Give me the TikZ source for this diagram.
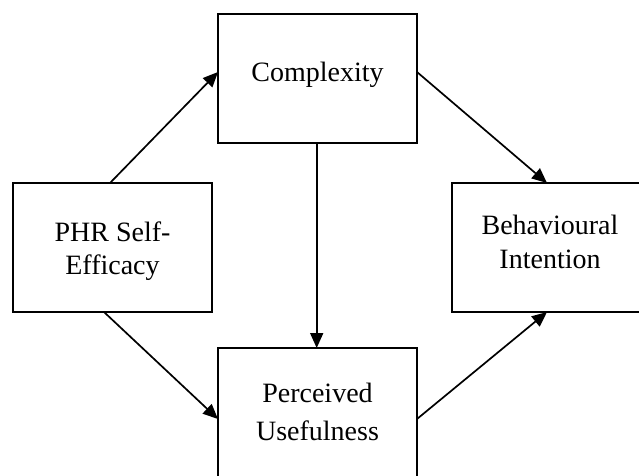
\documentclass[tikz,border=0pt]{standalone}
\usepackage{fontspec}
\setmainfont{Liberation Serif}
\usetikzlibrary{arrows.meta,calc}
\begin{document}
\begin{tikzpicture}[x=1pt,y=-1pt,
  box/.style={draw,line width=1.8pt,minimum width=199pt,minimum height=129pt,
    inner sep=0pt,anchor=north west,outer sep=0pt},
  lbl/.style={align=center,inner sep=0pt,font=\fontsize{28}{33}\selectfont},
  link/.style={line width=1.7pt,-{Triangle[length=15pt,width=13pt]}}]
  \useasboundingbox (0,0) rectangle (639,475);
  \begin{scope}
    \clip (0,0) rectangle (639,475);
    % the four boxes
    \node[box] (phr)  at (13,183)  {};
    \node[box] (comp) at (218,14)  {};
    \node[box] (beh)  at (452,183) {};
    \node[box] (perc) at (218,348) {};
  \end{scope}
  % box labels
  \node[lbl] (phrt)  at (112.5,251)  {PHR Self-\\Efficacy};
  \node[lbl] (compt) at (317.5,75.2) {Complexity};
  \node[lbl,font=\fontsize{28}{34}\selectfont] (beht) at (550,241.5) {Behavioural\\Intention};
  \node[lbl,font=\fontsize{28}{38}\selectfont] (perct) at (317.5,411.5) {Perceived\\Usefulness};
  % causal paths
  \draw[link] ($(phr.north west)+(97,0)$) -- ($(comp.north west)+(0,58)$);
  \draw[link] ($(phr.south west)+(91,0)$) -- ($(perc.north west)+(0,71)$);
  \draw[link] ($(comp.south)+(-0.8,0)$) -- ($(perc.north)+(-0.8,0)$);
  \draw[link] ($(comp.north east)+(0,58)$) -- ($(beh.north west)+(95,0)$);
  \draw[link] ($(perc.north east)+(0,71)$) -- ($(beh.south west)+(95,0)$);
\end{tikzpicture}
\end{document}
